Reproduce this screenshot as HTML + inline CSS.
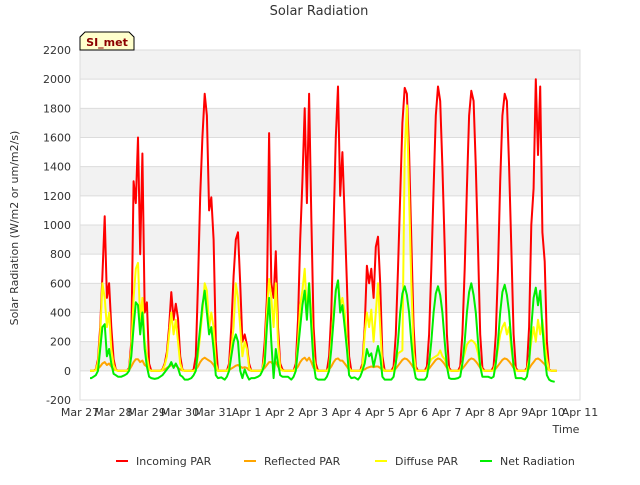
<!DOCTYPE html>
<html><head><meta charset="utf-8"><style>
body{margin:0;background:#fff;font-family:"Liberation Sans","DejaVu Sans",sans-serif;}
svg text{font-family:"DejaVu Sans","Liberation Sans",sans-serif;}
</style></head><body>
<svg id="chart" width="640" height="480" xmlns="http://www.w3.org/2000/svg">
<rect width="640" height="480" fill="#fff"/>
<text x="319" y="15" text-anchor="middle" font-size="13" fill="#333">Solar Radiation</text>
<g id="grid"></g>
<g id="series"></g>
<g id="axes"></g>
<text transform="translate(18,228) rotate(-90)" text-anchor="middle" font-size="11" fill="#333">Solar Radiation (W/m2 or um/m2/s)</text>
<text x="566" y="433" text-anchor="middle" font-size="11" fill="#333">Time</text>
<g>
<path d="M80,50 L80,37 L85,32 L129,32 L134,37 L134,50 Z" fill="#ffffcc" stroke="#000" stroke-width="1"/>
<text x="107" y="46" text-anchor="middle" font-size="11" font-weight="bold" fill="#8b0000">SI_met</text>
</g>
<g id="legend"></g>
</svg>
<script>
const xTickLabels=["Mar 27","Mar 28","Mar 29","Mar 30","Mar 31","Apr 1","Apr 2","Apr 3","Apr 4","Apr 5","Apr 6","Apr 7","Apr 8","Apr 9","Apr 10","Apr 11"];
const yTicks=[-200,0,200,400,600,800,1000,1200,1400,1600,1800,2000,2200];
const hourOffsets=[-9.6,-8,-6.4,-4.8,-3.2,-1.6,0,1.6,3.2,4.8,6.4,8,9.6];
const peakDayOffset=0.74;
const incoming=[
[0,0,10,80,300,650,1060,500,600,300,80,10,0],
[0,0,20,200,1300,1150,1600,800,1490,400,470,50,0],
[0,0,10,50,130,300,540,350,460,360,100,10,0],
[0,10,100,600,1200,1600,1900,1750,1100,1190,900,200,0],
[0,0,50,300,650,900,950,600,200,250,180,50,0],
[0,0,10,200,500,1630,600,500,820,300,50,10,0],
[0,0,50,350,900,1300,1800,1150,1900,1060,300,50,0],
[0,0,100,400,1000,1600,1950,1200,1500,1050,600,100,0],
[0,0,50,300,720,600,700,500,850,920,600,100,0],
[0,30,250,700,1200,1700,1940,1900,1500,900,300,30,0],
[0,30,250,700,1250,1750,1950,1850,1400,850,250,20,0],
[0,30,250,700,1250,1750,1920,1850,1400,850,250,20,0],
[0,30,250,700,1300,1750,1900,1850,1400,850,250,20,0],
[0,20,300,1000,1250,2000,1480,1950,950,750,200,10,0]];
const reflected=[
[0,0,5,15,30,50,60,40,50,30,10,5,0],
[0,0,5,30,60,80,80,60,70,40,30,5,0],
[0,0,2,10,20,30,40,30,40,20,10,2,0],
[0,0,10,30,60,80,90,80,70,60,40,10,0],
[0,0,5,15,25,35,40,30,20,25,20,5,0],
[0,0,5,20,40,60,60,40,60,30,10,5,0],
[0,0,10,30,60,80,90,70,90,60,20,5,0],
[0,0,10,30,60,80,85,70,70,50,30,5,0],
[0,0,5,10,20,25,30,25,30,30,20,5,0],
[0,2,15,35,55,75,85,80,65,45,20,3,0],
[0,2,15,35,55,75,85,80,65,45,20,3,0],
[0,2,15,35,55,75,85,80,65,45,20,3,0],
[0,2,15,35,55,75,85,80,65,45,20,3,0],
[0,2,15,40,60,80,85,75,60,45,20,3,0]];
const diffuse=[
[0,0,5,60,250,600,500,300,400,150,40,5,0],
[0,0,10,150,500,700,740,350,500,200,100,10,0],
[0,0,5,40,100,250,400,250,350,200,50,5,0],
[0,0,10,100,250,400,600,550,300,400,300,50,0],
[0,0,20,150,300,600,500,300,100,200,150,20,0],
[0,0,10,100,400,630,500,300,600,200,20,0,0],
[0,0,20,200,450,550,700,400,600,400,100,10,0],
[0,0,20,200,400,550,620,450,500,400,200,20,0],
[0,0,20,250,400,300,420,200,400,600,300,20,0],
[0,5,60,120,130,140,1500,1820,1200,600,130,5,0],
[0,5,50,80,90,100,110,140,100,80,40,5,0],
[0,5,60,120,180,200,210,200,180,120,40,5,0],
[0,5,60,150,250,300,330,250,300,150,40,5,0],
[0,5,80,200,300,200,350,250,350,200,80,5,0]];
const netRad=[
[-50,-40,-30,0,150,300,320,100,150,50,-20,-30,-40],
[-30,-20,0,100,300,470,450,250,400,150,30,-40,-50],
[-50,-40,-30,-10,10,30,60,20,50,20,-30,-40,-60],
[-50,-30,0,150,300,450,550,400,250,300,150,-30,-50],
[-60,-40,0,100,200,250,200,0,-50,10,-30,-60,-50],
[-40,-30,0,50,300,500,200,-50,150,50,-30,-40,-40],
[-60,-40,0,150,300,450,550,350,600,300,50,-50,-60],
[-60,-40,0,150,350,550,620,400,450,300,150,-30,-50],
[-60,-40,0,50,150,100,120,30,100,170,100,-40,-60],
[-60,-40,50,200,400,530,580,520,400,200,30,-50,-60],
[-60,-40,50,200,400,530,580,520,400,200,30,-50,-55],
[-50,-40,50,200,400,540,600,520,400,200,30,-40,-40],
[-50,-40,50,200,400,540,590,520,400,200,30,-50,-50],
[-60,-40,50,300,500,570,450,550,300,100,-30,-60,-70]];
const netNight=[-40,-55,-60,-45,-50,-40,-60,-45,-60,-60,-55,-40,-50,-75];
const netStart=-50;

const X0=80,X1=580,Y0=400,Y1=50;
const xs=d=>X0+(X1-X0)*d/15;
const ys=v=>Y0-(Y0-Y1)*(v+200)/2400;
const NS="http://www.w3.org/2000/svg";
function mk(tag,attrs,parent){const e=document.createElementNS(NS,tag);for(const k in attrs)e.setAttribute(k,attrs[k]);parent.appendChild(e);return e;}
const grid=document.getElementById('grid'),axes=document.getElementById('axes'),ser=document.getElementById('series'),leg=document.getElementById('legend');
for(let i=0;i<yTicks.length-1;i++){
  const a=yTicks[i],b=yTicks[i+1];
  const band=mk('rect',{x:X0,y:ys(b),width:X1-X0,height:ys(a)-ys(b),fill:(i%2===1)?'#f2f2f2':'#ffffff'},grid);
  
  
}
yTicks.forEach(v=>{
  const l=mk('line',{x1:X0,x2:X1,y1:ys(v),y2:ys(v),stroke:'#dcdcdc','stroke-width':1},grid);
  
  
  const t=mk('text',{x:X0-9,y:ys(v)+4,'text-anchor':'end','font-size':11,fill:'#333'},axes);
  t.textContent=v;
  
  
});
mk('rect',{x:X0,y:Y1,width:X1-X0,height:Y0-Y1,fill:'none',stroke:'#dcdcdc'},grid);
xTickLabels.forEach((s,i)=>{
  const t=mk('text',{x:xs(i),y:416,'text-anchor':'middle','font-size':11,fill:'#333'},axes);
  t.textContent=s;
  
  
});
function buildPts(arrs,isNet){
  const pts=[];
  if(isNet)pts.push([0.3,netStart]);
  else pts.push([0.3,0]);
  arrs.forEach((day,n)=>{
    const c=peakDayOffset+n;
    day.forEach((v,k)=>pts.push([c+hourOffsets[k]/24,v]));
    if(isNet)pts.push([c+0.5,netNight[n]]);
  });
  if(!isNet)pts.push([14.3,0]);
  return pts.map(p=>xs(p[0]).toFixed(1)+','+ys(p[1]).toFixed(1)).join(' ');
}
const seriesDefs=[["incoming-par-line",incoming,'#ff0000',false],["reflected-par-line",reflected,'#ffa500',false],["diffuse-par-line",diffuse,'#ffff00',false],["net-radiation-line",netRad,'#00ee00',true]];
seriesDefs.forEach(d=>{
  const p=mk('polyline',{points:buildPts(d[1],d[3]),fill:'none',stroke:d[2],'stroke-width':2,'stroke-linejoin':'round'},ser);
  
  
});
const legendItems=[["Incoming PAR",'#ff0000',116],["Reflected PAR",'#ffa500',244],["Diffuse PAR",'#ffff00',375],["Net Radiation",'#00ee00',480]];
legendItems.forEach(it=>{
  const g=mk('g',{},leg);
  
  
  mk('line',{x1:it[2],x2:it[2]+12,y1:461,y2:461,stroke:it[1],'stroke-width':2},g);
  const t=mk('text',{x:it[2]+20,y:465,'font-size':11,fill:'#333'},g);
  t.textContent=it[0];
});
</script>
</body></html>
